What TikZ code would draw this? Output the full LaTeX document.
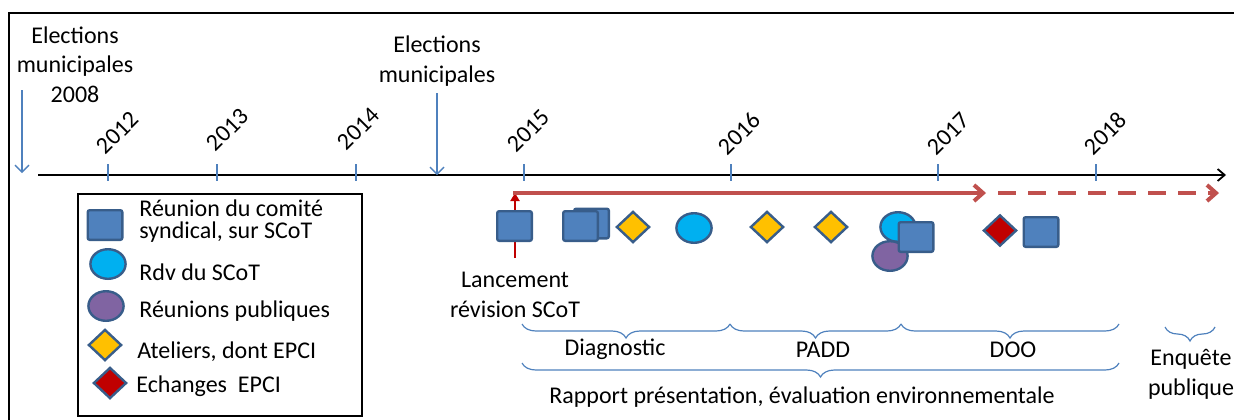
\documentclass[tikz,border=0pt]{standalone}
\usepackage{fontspec}
\setmainfont{Carlito}
\usetikzlibrary{arrows.meta, positioning, shapes.geometric, decorations.pathreplacing}

\definecolor{scotblue}{HTML}{4F81BD}
\definecolor{scotedge}{HTML}{385D8A}
\definecolor{scotcyan}{HTML}{00B0F0}
\definecolor{scotpurple}{HTML}{8064A2}
\definecolor{scotyellow}{HTML}{FFC000}
\definecolor{scotred}{HTML}{C00000}
\definecolor{phasered}{HTML}{C0504D}

\begin{document}
\begin{tikzpicture}[x=0.5pt, y=-0.5pt,
        every node/.style={font=\fontsize{12}{14.75}\selectfont},
        comite/.style={draw=scotedge, line width=1.2pt, fill=scotblue, rectangle, rounded corners=1pt,
                       minimum width=17.3pt, minimum height=14.8pt, inner sep=0pt},
        rdv/.style={draw=scotedge, line width=1.2pt, fill=scotcyan, ellipse,
                    minimum width=17.6pt, minimum height=14.8pt, inner sep=0pt},
        pub/.style={rdv, fill=scotpurple},
        atelier/.style={draw=scotedge, line width=1.2pt, fill=scotyellow, diamond,
                        minimum width=16.6pt, minimum height=15.6pt, inner sep=0pt},
        echange/.style={atelier, fill=scotred},
        lbl/.style={anchor=base west, inner sep=0pt, align=left, font=\fontsize{12}{11}\selectfont},
        yr/.style={rotate=45, anchor=south west, inner sep=0pt},
        yrtick/.style={draw=scotblue, line width=0.7pt},
        elec/.style={-{Straight Barb[length=3.5pt,width=7pt]}, draw=scotblue, line width=0.7pt},
        brc/.style={decorate, decoration={brace, mirror, amplitude=7pt}, draw=scotblue, line width=0.6pt},
        launch/.style={-{Triangle[length=4pt,width=4.5pt]}, draw=scotred, line width=1pt},
        phase/.style={-{Straight Barb[length=4.5pt,width=8pt]}, draw=phasered, line width=2pt}
    ]
        \useasboundingbox (0,0) rectangle (1234,419);
        \clip (0,0) rectangle (1234,419);
        \draw[line width=1pt] (9,13) rectangle (1260,450);

        % time axis
        \coordinate (ax0) at (38,175);
        \coordinate (ax1) at (1226,175);
        \draw[-{Straight Barb[length=3.5pt,width=6pt]}, line width=0.9pt] (ax0) -- (ax1);
        \foreach \yr/\tx/\lx/\ly in {2012/108/106/156, 2013/217/216/153, 2014/356/347/152,
                                     2015/524/517/154, 2016/731/728/157, 2017/938/937/157, 2018/1096/1094/157} {
            \draw[yrtick] (\tx,164) -- (\tx,181);
            \node[yr] (y\yr) at (\lx,\ly) {\yr};
        }

        % elections (base = last line)
        \node[anchor=base, align=center] (el08) at (75,102) {Elections\\municipales\\2008};
        \node[anchor=base, align=center] (el14) at (437,82) {Elections\\municipales};
        \coordinate (el08a) at (22,90);
        \coordinate (el08b) at (22,173);
        \coordinate (el14a) at (437,93);
        \coordinate (el14b) at (437,175);
        \draw[elec] (el08a) -- (el08b);
        \draw[elec] (el14a) -- (el14b);

        % revision du SCoT
        \coordinate (lanc0) at (515,258);
        \coordinate (rev0) at (515,193);
        \coordinate (rev1) at (986,193);
        \coordinate (rev1b) at (998,193);
        \coordinate (rev2) at (1219,193);
        \draw[launch] (lanc0) -- (rev0);
        \draw[phase] ([xshift=-1pt]rev0) -- (rev1);
        \draw[phase, dash pattern=on 9pt off 6pt] (rev1b) -- (rev2);
        \node[anchor=base, align=center] (lanc) at (515,317) {Lancement\\révision SCoT};

        % evenements
        \node[comite] (c1) at (514.5,226) {};
        \node[comite] (c2b) at (591.5,223.5) {};
        \node[comite] (c2) at (580.5,226) {};
        \node[atelier] (a1) at (633,227) {};
        \node[rdv] (r1) at (694,228) {};
        \node[atelier] (a2) at (767,227) {};
        \node[atelier] (a3) at (831,227) {};
        \node[rdv] (r2) at (898,227) {};
        \node[pub] (p1) at (890,256) {};
        \node[comite] (c3) at (916,237) {};
        \node[echange] (e1) at (1000,230.5) {};
        \node[comite] (c4) at (1041,232) {};

        % phases
        \coordinate (ph0) at (522,324);
        \coordinate (ph1) at (730,324);
        \coordinate (ph2) at (901,324);
        \coordinate (ph3) at (1119,324);
        \coordinate (rp0) at (522,363);
        \coordinate (rp1) at (1119,363);
        \coordinate (eq0) at (1165,327);
        \coordinate (eq1) at (1215,327);
        \draw[brc] (ph0) -- (ph1);
        \draw[brc] (ph1) -- (ph2);
        \draw[brc] (ph2) -- (ph3);
        \draw[brc] (rp0) -- (rp1);
        \draw[brc] (eq0) -- (eq1);
        \node[anchor=base] (diag) at (615,355) {Diagnostic};
        \node[anchor=base] (padd) at (823,357) {PADD};
        \node[anchor=base] (doo) at (1013,357) {DOO};
        \node[anchor=base] (rapp) at (802,403) {Rapport présentation, évaluation environnementale};
        \node[anchor=base, align=center] (enq) at (1191,395) {Enquête\\publique};

        % legende
        \node[draw, line width=0.8pt, minimum width=142pt, minimum height=111pt, inner sep=0pt] (leg) at (220,305) {};
        \node[comite] (lc) at (105,225) {};
        \node[rdv] (lr) at (108,264) {};
        \node[pub] (lp) at (106,306) {};
        \node[atelier] (la) at (105,345) {};
        \node[echange] (le) at (110,383) {};
        \node[lbl] (lct) at (139,238) {Réunion du comité\\syndical, sur SCoT};
        \node[lbl] (lrt) at (139,280) {Rdv du SCoT};
        \node[lbl] (lpt) at (139,317) {Réunions publiques};
        \node[lbl] (lat) at (137,358) {Ateliers, dont EPCI};
        \node[lbl] (let) at (136,392) {Echanges\ \ EPCI};
    \end{tikzpicture}
\end{document}
